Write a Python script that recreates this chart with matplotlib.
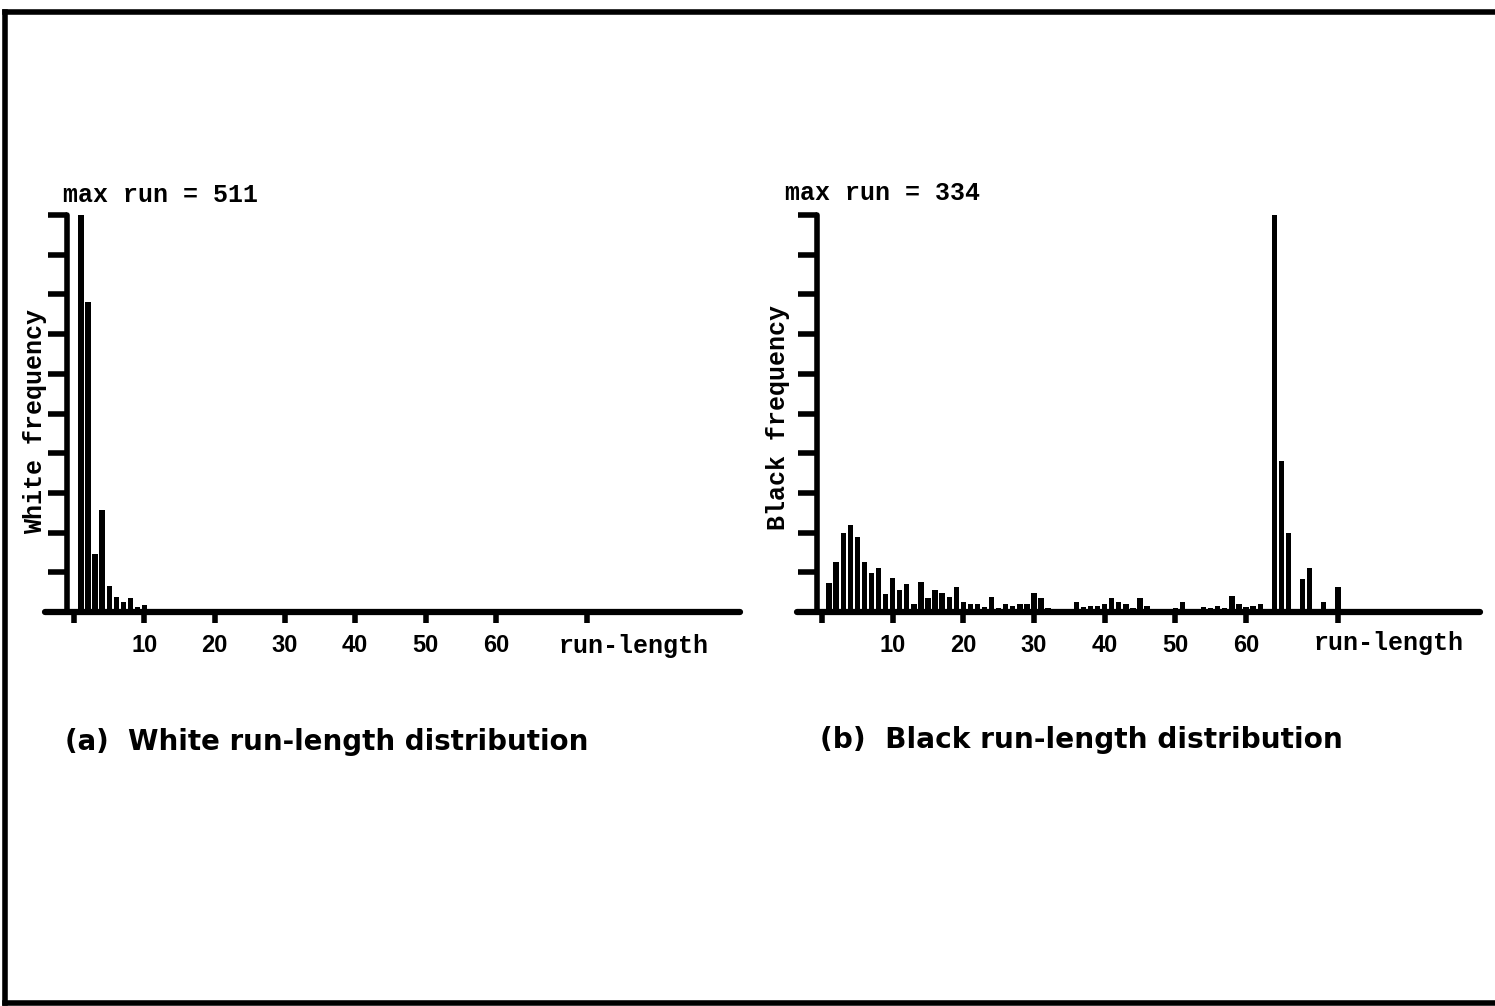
import matplotlib
matplotlib.use("Agg")
import matplotlib.pyplot as plt
from matplotlib.lines import Line2D
import numpy as np

# ---------------- data (fraction of maximum frequency) ----------------
white_runs = [1, 2, 3, 4, 5, 6, 7, 8, 9, 10, 11, 12, 14, 16, 21, 26, 29]
white_freq = [1.0, 0.78, 0.146, 0.258, 0.066, 0.038, 0.025, 0.035, 0.012, 0.018,
              0.008, 0.006, 0.005, 0.005, 0.008, 0.008, 0.005]

black_runs = list(range(1, 64)) + [64, 65, 66, 68, 69, 71, 73]
black_freq = [0.073, 0.126, 0.199, 0.219, 0.189, 0.126, 0.098, 0.111, 0.045, 0.086,
              0.055, 0.071, 0.020, 0.076, 0.035, 0.055, 0.048, 0.038, 0.063, 0.025,
              0.020, 0.020, 0.012, 0.038, 0.010, 0.020, 0.015, 0.020, 0.020, 0.048,
              0.035, 0.010, 0.005, 0.005, 0.005, 0.025, 0.012, 0.015, 0.015, 0.020,
              0.035, 0.025, 0.020, 0.010, 0.035, 0.015, 0.008, 0.008, 0.008, 0.010,
              0.025, 0.008, 0.005, 0.012, 0.010, 0.015, 0.010, 0.040, 0.020, 0.012,
              0.015, 0.020, 0.005,
              1.0, 0.38, 0.20, 0.083, 0.11, 0.025, 0.063]

xtick_pos = [0, 10, 20, 30, 40, 50, 60, 73]
xtick_lab = ["", "10", "20", "30", "40", "50", "60", ""]
ytick_pos = [i / 10 for i in range(11)]

W, H = 1495, 1006
fig = plt.figure(figsize=(W / 100, H / 100), dpi=100)
fig.patch.set_facecolor("white")

mono = dict(family=["Liberation Mono", "DejaVu Sans Mono"], weight="bold", size=18)
num = dict(family=["Liberation Sans", "DejaVu Sans"], weight="bold", size=17)


def make_panel(left_px, right_px, x0_px, unit_px, yaxis_px, runs, freq,
               ylabel, ylabel_xy, maxrun, maxrun_xy, runlen_xy):
    base_px, top_px = 612, 215
    ax = fig.add_axes([left_px / W, 1 - base_px / H,
                       (right_px - left_px) / W, (base_px - top_px) / H])
    ax.set_xlim((left_px - x0_px) / unit_px, (right_px - x0_px) / unit_px)
    ax.set_ylim(0, 1.0)
    ax.bar(runs, freq, width=0.75, color="black", zorder=3)
    for s in ("top", "right"):
        ax.spines[s].set_visible(False)
    ax.spines["left"].set_position(("data", (yaxis_px - x0_px) / unit_px))
    ax.spines["left"].set_bounds(0, 1.0)
    ax.spines["left"].set_linewidth(4)
    ax.spines["bottom"].set_linewidth(4.5)
    ax.spines["left"].set_capstyle("round")
    ax.spines["bottom"].set_capstyle("round")
    ax.set_yticks(ytick_pos)
    ax.set_yticklabels([])
    ax.tick_params(axis="y", direction="out", length=14, width=4)
    ax.set_xticks(xtick_pos)
    ax.set_xticklabels(xtick_lab, **num)
    ax.tick_params(axis="x", direction="out", length=8, width=4, pad=8)
    ax.set_facecolor("none")
    ax.text((runlen_xy[0] - x0_px) / unit_px, (base_px - runlen_xy[1]) / (base_px - top_px),
            "run-length", ha="center", va="center", **mono)
    fig.text(maxrun_xy[0] / W, 1 - maxrun_xy[1] / H, maxrun, ha="left", va="center", **mono)
    fig.text(ylabel_xy[0] / W, 1 - ylabel_xy[1] / H, ylabel, rotation=90,
             ha="center", va="center", **mono)
    return ax


make_panel(45, 740, 74, 7.03, 67, white_runs, white_freq,
           "White frequency", (35, 422), "max run = 511", (63, 195), (634, 646))
make_panel(797, 1480, 822, 7.067, 817, black_runs, black_freq,
           "Black frequency", (778, 418), "max run = 334", (785, 193), (1389, 643))

# captions (sized to match the reference width)
cap_fam = ["Liberation Sans Narrow", "DejaVu Sans"]
caps = [("(a)  White run-length distribution", 65, 742, 523),
        ("(b)  Black run-length distribution", 820, 740, 522)]
fig.canvas.draw()
r = fig.canvas.get_renderer()
for txt, x, y, wpx in caps:
    t = fig.text(x / W, 1 - y / H, txt, ha="left", va="center",
                 family=cap_fam, weight="bold", size=20)
    bb = t.get_window_extent(renderer=r)
    t.set_fontsize(20 * wpx / bb.width)

# frame of the scanned figure
for xs, ys in [((5, 1495), (12, 12)), ((5, 5), (12, 1003)), ((5, 1495), (1003, 1003))]:
    fig.add_artist(Line2D([v / W for v in xs], [1 - v / H for v in ys],
                          transform=fig.transFigure, color="black", lw=4))

fig.savefig("out.png", dpi=100, facecolor="white")
